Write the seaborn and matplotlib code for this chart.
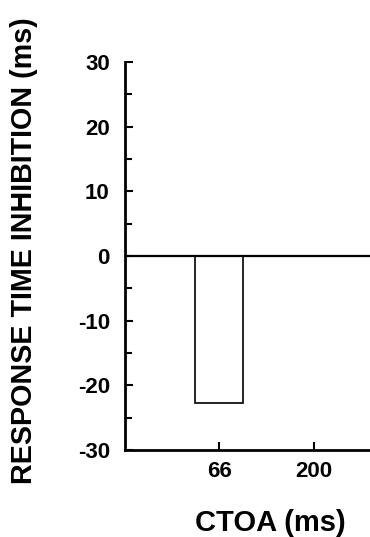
import matplotlib
matplotlib.use("Agg")
import matplotlib.pyplot as plt
from matplotlib.ticker import MultipleLocator
import seaborn as sns
import pandas as pd

ctoa = ["66", "200"]
inhibition = [-22.7, 0.0]
y_ticks = [-30, -20, -10, 0, 10, 20, 30]

sns.set_style("ticks")
plt.rcParams['font.family'] = ['Liberation Sans', 'DejaVu Sans']
plt.rcParams['axes.unicode_minus'] = False
plt.rcParams['text.color'] = 'black'
plt.rcParams['axes.labelcolor'] = 'black'
plt.rcParams['xtick.color'] = 'black'
plt.rcParams['ytick.color'] = 'black'

df = pd.DataFrame({"ctoa": ctoa, "inhibition": inhibition})

fig = plt.figure(figsize=(3.70, 5.37), dpi=100)
ax = fig.add_axes([0.338, 0.162, 0.662, 0.7225])

sns.barplot(data=df, x="ctoa", y="inhibition", order=ctoa, width=0.5,
            color="white", edgecolor="black", linewidth=1.2, ax=ax)
ax.axhline(0, color="black", lw=1.6, zorder=3)

ax.set_ylim(-30, 30)
ax.set_xlim(-0.99, 1.59)
ax.set_yticks(y_ticks)
ax.yaxis.set_minor_locator(MultipleLocator(5))
ax.tick_params(axis="both", which="both", direction="in", width=1.5, color="black")
ax.tick_params(axis="both", which="major", length=6, labelsize=16)
ax.tick_params(axis="y", which="major", pad=11)
ax.tick_params(axis="x", which="major", pad=8)
ax.tick_params(axis="y", which="minor", length=5)
for lbl in ax.get_xticklabels() + ax.get_yticklabels():
    lbl.set_fontweight("bold")
    lbl.set_color("black")

sns.despine(ax=ax)
for s in ["left", "bottom"]:
    ax.spines[s].set_linewidth(2)
    ax.spines[s].set_color("black")

ax.set_xlabel("CTOA (ms)", fontsize=21, fontweight="bold", color="black")
ax.set_ylabel("RESPONSE TIME INHIBITION (ms)", fontsize=20.7, fontweight="bold", color="black")
ax.xaxis.set_label_coords(0.592, -0.152)
ax.yaxis.set_label_coords(-0.355, 0.513)

fig.savefig("out.png", dpi=100)
